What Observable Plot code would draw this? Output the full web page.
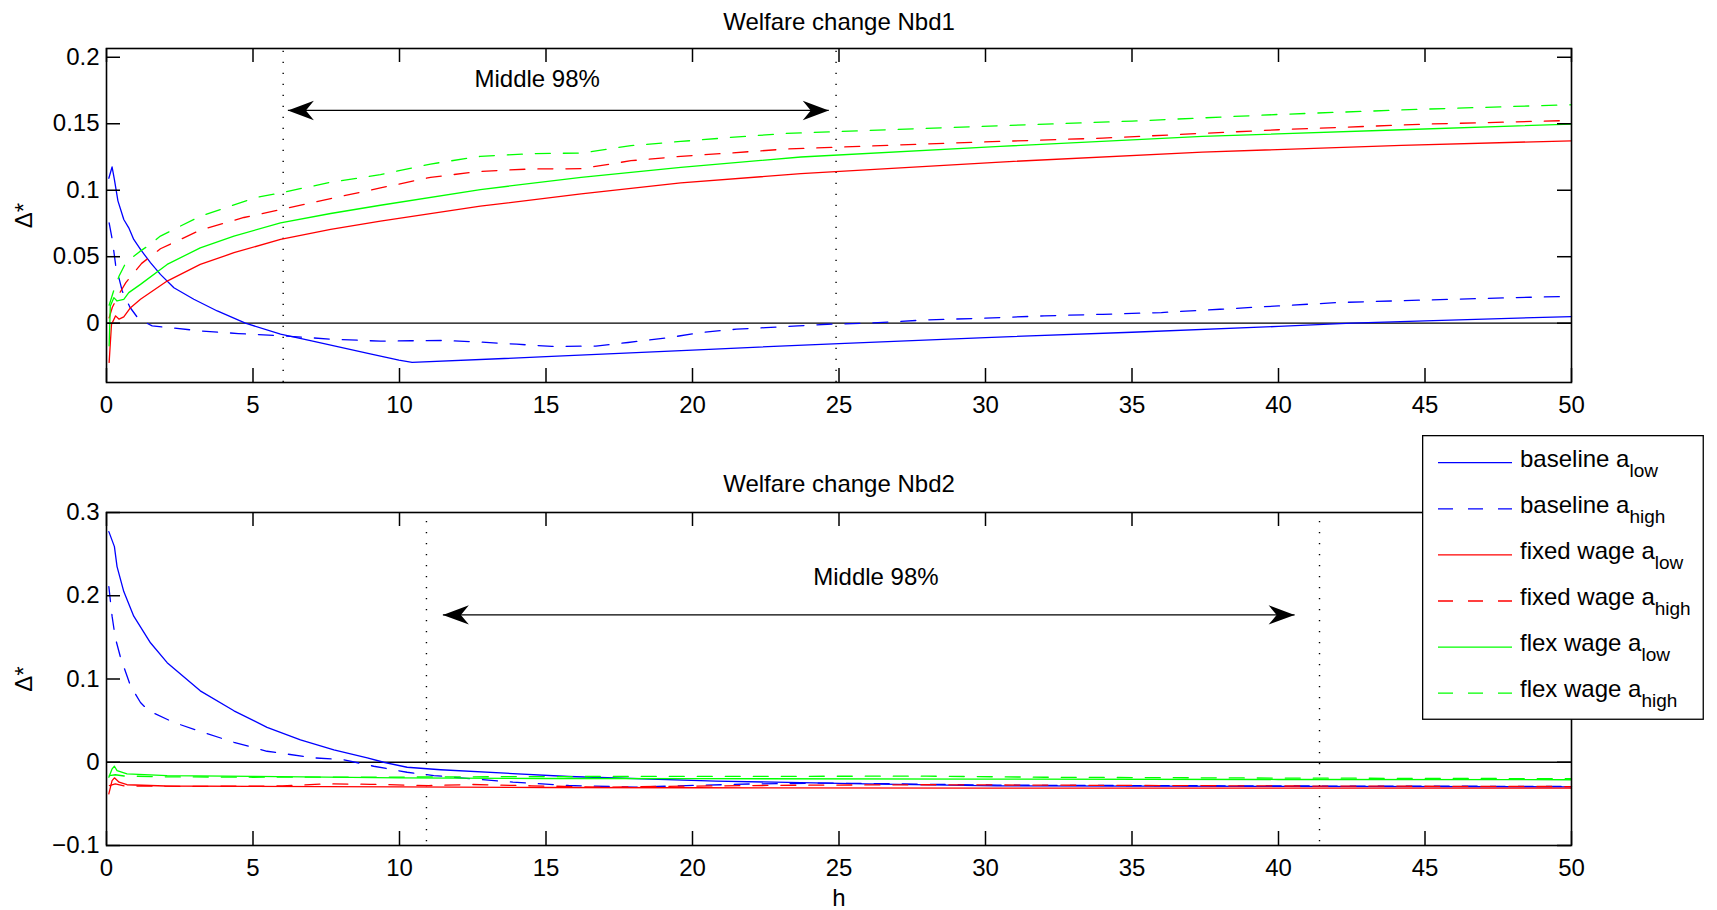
<!DOCTYPE html>
<html><head><meta charset="utf-8">
<script src="https://cdn.jsdelivr.net/npm/d3@7"></script>
<script src="https://cdn.jsdelivr.net/npm/@observablehq/plot@0.6"></script>
<style>
body{margin:0;background:#fff;}
#wrap{position:relative;width:1717px;height:910px;font-family:"Liberation Sans",Arial,Helvetica,sans-serif;}
#p1{position:absolute;left:0;top:0}
#p2{position:absolute;left:0;top:440px}
#legend{position:absolute;left:1422px;top:435px;}
</style></head><body><div id="wrap"><div id="p1"></div><div id="p2"></div><div id="legend"></div></div>
<script>
// ---------- data (h, Δ*) ----------
const panelTitles = ["Welfare change Nbd1", "Welfare change Nbd2"];
const xTicks = [0, 5, 10, 15, 20, 25, 30, 35, 40, 45, 50];
const nbd1YTicks = [0, 0.05, 0.1, 0.15, 0.2];
const nbd1YTickLabels = ["0", "0.05", "0.1", "0.15", "0.2"];
const nbd2YTicks = [-0.1, 0, 0.1, 0.2, 0.3];
const nbd2YTickLabels = ["\u22120.1", "0", "0.1", "0.2", "0.3"];
const nbd1Domain = [-0.0446, 0.2066];
const nbd2Domain = [-0.1, 0.3];
const noteText = "Middle 98%";
const nbd1Bounds = [6.03, 24.9];
const nbd1BoundsSpan = [-0.0446, 0.211];
const nbd2Bounds = [10.92, 41.4];
const nbd2BoundsSpan = [-0.0955, 0.295];
const nbd1Arrow = [6.19, 24.65, 0.16];
const nbd2Arrow = [11.48, 40.55, 0.177];
const nbd1Note = [14.7, 0.1832];
const nbd2Note = [26.26, 0.2222];

const seriesNames = ["baseline", "baseline", "fixed wage", "fixed wage", "flex wage", "flex wage"];
const seriesSubs = ["low", "high", "low", "high", "low", "high"];
const seriesColors = ["#0000ff", "#0000ff", "#ff0000", "#ff0000", "#00ff00", "#00ff00"];
const seriesDashed = [false, true, false, true, false, true];

const nbd1BaselineLow = [[0.08,0.109],[0.19,0.1175],[0.27,0.108],[0.39,0.092],[0.59,0.078],[0.76,0.0717],[0.93,0.063],[1.16,0.0555],[1.5,0.0455],[1.84,0.0367],[2.3,0.0267],[2.98,0.018],[3.78,0.0092],[4.74,0],[5.94,-0.0083],[7,-0.0133],[8,-0.0182],[9,-0.023],[9.98,-0.0278],[10.43,-0.0295],[15,-0.0252],[20,-0.0202],[25,-0.0153],[30,-0.0108],[35,-0.0068],[40,-0.0024],[42.5,0],[45,0.0018],[50,0.005]];
const nbd1BaselineHigh = [[0.09,0.0755],[0.2,0.0625],[0.31,0.044],[0.54,0.024],[0.8,0.012],[1.1,0.003],[1.56,-0.002],[3.21,-0.0058],[4.5,-0.0078],[6.04,-0.0095],[7.65,-0.012],[9.35,-0.0135],[10.4,-0.0132],[11.5,-0.013],[12.8,-0.0142],[14,-0.0158],[15.2,-0.0175],[16.7,-0.0172],[17.8,-0.0145],[19.2,-0.0108],[20.3,-0.007],[21.5,-0.0045],[22.5,-0.0033],[23.6,-0.002],[24.6,-0.0008],[26,0],[28,0.0025],[30,0.0038],[32,0.0055],[34,0.0067],[36,0.008],[38,0.0105],[40,0.013],[42,0.0155],[44,0.0168],[46,0.018],[48,0.0192],[50,0.0202]];
const nbd1FixedLow = [[0.09,-0.0295],[0.17,-0.001],[0.31,0.0055],[0.43,0.003],[0.59,0.0047],[0.82,0.0117],[1.16,0.018],[2.07,0.0317],[3.2,0.0442],[4.35,0.053],[5.94,0.063],[7.65,0.0705],[9.35,0.0767],[12.76,0.088],[16.2,0.0972],[19.6,0.1055],[23.7,0.1125],[30.5,0.1212],[37.4,0.1287],[44.2,0.1337],[50,0.1372]];
const nbd1FixedHigh = [[0.09,0.004],[0.2,0.012],[0.43,0.022],[0.66,0.0305],[1.2,0.045],[1.84,0.056],[3.2,0.07],[4.69,0.0795],[5.94,0.0855],[7.65,0.0937],[9.35,0.1017],[11.06,0.1097],[12.76,0.1142],[14.47,0.116],[16.2,0.1162],[17.9,0.1222],[19.6,0.1255],[21.3,0.128],[23.2,0.131],[28.8,0.1355],[34,0.1392],[40,0.1455],[45,0.1497],[50,0.1525]];
const nbd1FlexLow = [[0.09,-0.017],[0.13,0.013],[0.25,0.0192],[0.36,0.0167],[0.59,0.018],[0.76,0.023],[1.16,0.0292],[2.07,0.0442],[3.2,0.0567],[4.35,0.0655],[5.94,0.0755],[7.65,0.0825],[9.35,0.0887],[12.76,0.1005],[16.2,0.1097],[19.6,0.1172],[23.7,0.125],[30.5,0.133],[37.4,0.1405],[44.2,0.1455],[50,0.1497]];
const nbd1FlexHigh = [[0.09,0.0135],[0.24,0.024],[0.43,0.0355],[0.66,0.0455],[1.14,0.054],[1.47,0.059],[1.84,0.0655],[3.2,0.0805],[5.14,0.0947],[5.94,0.098],[7.65,0.106],[9.35,0.1117],[11.06,0.1197],[12.76,0.1255],[14.47,0.1275],[16.2,0.128],[17.9,0.1335],[19.6,0.1367],[21.3,0.1397],[23.2,0.1427],[28.8,0.1472],[35,0.152],[40,0.157],[45,0.161],[50,0.1643]];

const nbd2BaselineLow = [[0.08,0.277],[0.27,0.259],[0.36,0.235],[0.59,0.205],[0.93,0.1755],[1.5,0.1435],[2.07,0.1196],[3.2,0.0858],[4.35,0.0618],[5.48,0.0419],[6.62,0.0268],[7.76,0.0148],[8.9,0.0053],[9.46,0],[10.26,-0.006],[11.4,-0.009],[15.77,-0.0171],[20.8,-0.0227],[25.9,-0.0259],[30.4,-0.0283],[40,-0.029],[50,-0.0295]];
const nbd2BaselineHigh = [[0.08,0.211],[0.19,0.1755],[0.3,0.1495],[0.48,0.1256],[0.82,0.0917],[1.16,0.0718],[1.44,0.0618],[2.3,0.0478],[3.2,0.037],[4.35,0.024],[5.48,0.0132],[7.08,0.0053],[8.1,0.003],[9.12,-0.0048],[10.26,-0.012],[11.17,-0.016],[13.87,-0.0239],[15.77,-0.0279],[18.04,-0.0299],[19.56,-0.0283],[22.1,-0.026],[24.6,-0.025],[27.1,-0.026],[30.4,-0.0275],[40,-0.0285],[50,-0.029]];
const nbd2FixedLow = [[0.08,-0.038],[0.19,-0.022],[0.27,-0.0187],[0.43,-0.024],[0.7,-0.027],[2,-0.0285],[5,-0.029],[10,-0.0295],[15,-0.0303],[20,-0.0306],[30,-0.031],[40,-0.031],[50,-0.0312]];
const nbd2FixedHigh = [[0.1,-0.028],[0.3,-0.026],[0.6,-0.0285],[3,-0.029],[6,-0.0285],[7.5,-0.026],[9,-0.0265],[11,-0.028],[12.5,-0.0267],[14.5,-0.0283],[17,-0.0299],[19,-0.029],[21,-0.0283],[24,-0.0275],[28,-0.027],[32,-0.0275],[40,-0.0285],[50,-0.0292]];
const nbd2FlexLow = [[0.08,-0.018],[0.19,-0.008],[0.27,-0.0048],[0.36,-0.01],[0.7,-0.014],[2.07,-0.016],[5,-0.017],[10,-0.0187],[15,-0.0195],[20,-0.0197],[30,-0.0203],[40,-0.0207],[50,-0.021]];
const nbd2FlexHigh = [[0.1,-0.016],[0.3,-0.015],[0.6,-0.0165],[2,-0.0175],[5,-0.018],[10,-0.0178],[15,-0.0172],[20,-0.017],[28,-0.0167],[32,-0.018],[40,-0.019],[50,-0.0197]];

// ---------- drawing ----------
const FONT = '"Liberation Sans", Arial, Helvetica, sans-serif';
const W = 1717, ML = 106, MR = 146, TICK = 14;
const FW = W - ML - MR;

// filled arrowheads (MATLAB doublearrow style)
const headLeft = {draw(ctx) { ctx.moveTo(0, 0); ctx.lineTo(26, -9.7); ctx.lineTo(18, 0); ctx.lineTo(26, 9.7); ctx.closePath(); }};
const headRight = {draw(ctx) { ctx.moveTo(0, 0); ctx.lineTo(-26, -9.7); ctx.lineTo(-18, 0); ctx.lineTo(-26, 9.7); ctx.closePath(); }};

function panel(cfg) {
  const FH = cfg.height - cfg.mt - cfg.mb;
  const labelMap = new Map(cfg.yTicks.map((t, i) => [t, cfg.yLabels[i]]));
  const lineMarks = cfg.series.map((s, i) => Plot.line(s, {
    x: d => d[0], y: d => d[1], stroke: seriesColors[i], strokeWidth: 1.3,
    strokeDasharray: seriesDashed[i] ? "15,13" : null
  }));
  const marks = [
    Plot.ruleY([0], {stroke: "black", strokeWidth: 1.3}),
    Plot.ruleX(cfg.bounds, {x: d => d, y1: cfg.boundsSpan[0], y2: cfg.boundsSpan[1], stroke: "black", strokeWidth: 1.4, strokeDasharray: "1.3,9.7"}),
    ...lineMarks,
    Plot.link([cfg.arrow], {x1: d => d[0], x2: d => d[1], y1: d => d[2], y2: d => d[2], stroke: "black", strokeWidth: 1.3}),
    Plot.dot([cfg.arrow], {x: d => d[0], y: d => d[2], symbol: headLeft, fill: "black", stroke: "none"}),
    Plot.dot([cfg.arrow], {x: d => d[1], y: d => d[2], symbol: headRight, fill: "black", stroke: "none"}),
    Plot.text([cfg.note], {x: d => d[0], y: d => d[1], text: () => noteText, fontSize: 24, fill: "black"}),
    Plot.frame({stroke: "black", strokeWidth: 1.6}),
    Plot.tickX(xTicks, {x: d => d, insetTop: FH - TICK, stroke: "black", strokeWidth: 1.5}),
    Plot.tickX(xTicks, {x: d => d, insetBottom: FH - TICK, stroke: "black", strokeWidth: 1.5}),
    Plot.tickY(cfg.yTicks, {y: d => d, insetRight: FW - TICK, stroke: "black", strokeWidth: 1.5}),
    Plot.tickY(cfg.yTicks, {y: d => d, insetLeft: FW - TICK, stroke: "black", strokeWidth: 1.5}),
    Plot.axisX(xTicks, {anchor: "bottom", tickSize: 0, tickPadding: 13, fontSize: 24, tickFormat: d => String(d), fill: "black"}),
    Plot.axisY(cfg.yTicks, {anchor: "left", tickSize: 0, tickPadding: 7, fontSize: 24, tickFormat: d => labelMap.get(d), fill: "black"}),
    Plot.text([cfg.title], {frameAnchor: "top", lineAnchor: "middle", dy: cfg.titleDy, fontSize: 24, fill: "black"}),
    Plot.text(["\u0394*"], {frameAnchor: "left", lineAnchor: "middle", dx: -82, rotate: -90, textAnchor: "middle", fontSize: 24, fill: "black"})
  ];
  if (cfg.xlabel) marks.push(Plot.text([cfg.xlabel], {frameAnchor: "bottom", dy: 43, lineAnchor: "top", fontSize: 24, fill: "black"}));
  return Plot.plot({
    width: W, height: cfg.height,
    marginLeft: ML, marginRight: MR, marginTop: cfg.mt, marginBottom: cfg.mb,
    x: {domain: [0, 50], label: null},
    y: {domain: cfg.domain, label: null},
    style: {fontFamily: FONT, fontSize: "24px", background: "white", overflow: "visible", color: "black"},
    marks
  });
}

document.getElementById("p1").appendChild(panel({
  height: 440, mt: 48, mb: 58, title: panelTitles[0], titleDy: -26.6,
  domain: nbd1Domain, yTicks: nbd1YTicks, yLabels: nbd1YTickLabels,
  series: [nbd1BaselineLow, nbd1BaselineHigh, nbd1FixedLow, nbd1FixedHigh, nbd1FlexLow, nbd1FlexHigh],
  bounds: nbd1Bounds, boundsSpan: nbd1BoundsSpan, arrow: nbd1Arrow, note: nbd1Note
}));
document.getElementById("p2").appendChild(panel({
  height: 470, mt: 72, mb: 65, title: panelTitles[1], titleDy: -27.8,
  domain: nbd2Domain, yTicks: nbd2YTicks, yLabels: nbd2YTickLabels,
  series: [nbd2BaselineLow, nbd2BaselineHigh, nbd2FixedLow, nbd2FixedHigh, nbd2FlexLow, nbd2FlexHigh],
  bounds: nbd2Bounds, boundsSpan: nbd2BoundsSpan, arrow: nbd2Arrow, note: nbd2Note, xlabel: "h"
}));

// ---------- legend ----------
const LW = 282, LH = 285;
const lsvg = d3.select("#legend").append("svg").attr("width", LW).attr("height", LH)
  .style("font-family", FONT).style("overflow", "visible");
lsvg.append("rect").attr("x", 0.65).attr("y", 0.65).attr("width", 280.6).attr("height", 283.6)
  .attr("fill", "white").attr("stroke", "black").attr("stroke-width", 1.3);
seriesNames.forEach((name, i) => {
  const y = 27.7 + i * 46.1;
  lsvg.append("line").attr("x1", 16).attr("x2", 90).attr("y1", y).attr("y2", y)
    .attr("stroke", seriesColors[i]).attr("stroke-width", 1.3)
    .attr("stroke-dasharray", seriesDashed[i] ? "15,15" : null);
  const t = lsvg.append("text").attr("x", 98).attr("y", y + 4).attr("font-size", 24).attr("fill", "black");
  t.append("tspan").text(name + " a");
  t.append("tspan").attr("font-size", 19).attr("dy", 10).text(seriesSubs[i]);
});
</script>
</body></html>
